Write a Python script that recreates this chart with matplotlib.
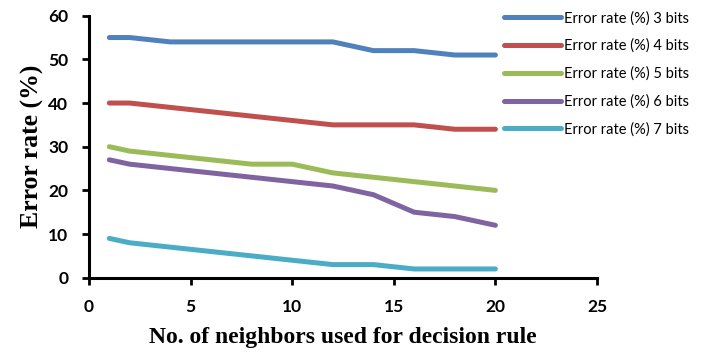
import numpy as np
import matplotlib.pyplot as plt

# number of neighbors (k) and error rates
k = [1, 2, 4, 6, 8, 10, 12, 14, 16, 18, 20]
bits3 = [55, 55, 54, 54, 54, 54, 54, 52, 52, 51, 51]
bits4 = [40, 40, 39, 38, 37, 36, 35, 35, 35, 34, 34]
bits5 = [30, 29, 28, 27, 26, 26, 24, 23, 22, 21, 20]
bits6 = [27, 26, 25, 24, 23, 22, 21, 19, 15, 14, 12]
bits7 = [9, 8, 7, 6, 5, 4, 3, 3, 2, 2, 2]

series = [bits3, bits4, bits5, bits6, bits7]
labels = ['Error rate (%) 3 bits', 'Error rate (%) 4 bits', 'Error rate (%) 5 bits',
          'Error rate (%) 6 bits', 'Error rate (%) 7 bits']
colors = ['#4F81BD', '#C0504D', '#9BBB59', '#8064A2', '#4BACC6']

fig = plt.figure(figsize=(7.01, 3.55), dpi=100)
ax = fig.add_axes([89/701, 1-277.7/355, (597-89)/701, (277.7-15.7)/355])

for y, lab, c in zip(series, labels, colors):
    ax.plot(k, y, color=c, lw=3.6, label=lab, solid_capstyle='round', solid_joinstyle='round')

ax.set_xlim(0, 25)
ax.set_ylim(0, 60)
ax.set_xticks([0, 5, 10, 15, 20, 25])
ax.set_yticks(range(0, 61, 10))
for s in ['top', 'right']:
    ax.spines[s].set_visible(False)
for s in ['left', 'bottom']:
    ax.spines[s].set_linewidth(2.2)
ax.tick_params(direction='out', length=5, width=2)
ax.tick_params(axis='x', pad=10)
ax.tick_params(axis='y', pad=10)
for t in ax.get_xticklabels() + ax.get_yticklabels():
    t.set_fontfamily('Lato')
    t.set_fontweight('bold')
    t.set_fontsize(12.5)

ax.set_xlabel('No. of neighbors used for decision rule', fontfamily='Liberation Serif',
              fontweight='bold', fontsize=17, labelpad=9)
ax.set_ylabel('Error rate (%)', fontfamily='Liberation Serif', fontweight='bold',
              fontsize=18.5, labelpad=3)

leg = fig.legend(loc='upper left', bbox_to_anchor=(504/701, 1-11/355), frameon=False,
                 prop={'family': 'Lato', 'size': 10.5}, handlelength=3.9, handletextpad=0.18,
                 labelspacing=0.92, borderpad=0, borderaxespad=0)

fig.savefig('out.png', dpi=100)
